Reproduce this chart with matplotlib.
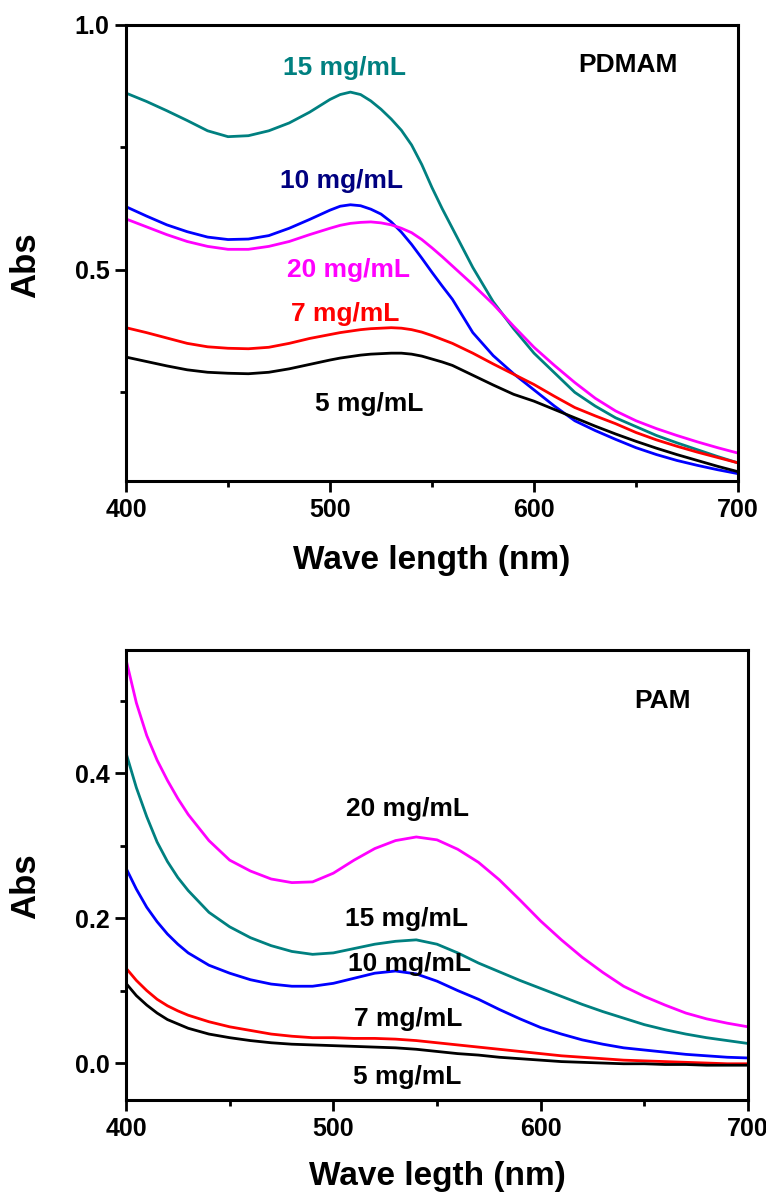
import numpy as np
import matplotlib.pyplot as plt
from matplotlib.ticker import MultipleLocator

plt.rcParams['font.family'] = ['Liberation Sans', 'DejaVu Sans']
plt.rcParams['font.weight'] = 'bold'

# ---- PDMAM panel (wavelength in nm, finer around the peak) ----
wl_top = [400, 410, 420, 430, 440, 450, 460, 470, 480, 490, 500,
          505, 510, 515, 520, 525, 530, 535, 540, 545, 550, 555,
          560, 570, 580, 590, 600, 610, 620, 630, 640, 650, 660, 670, 680, 690, 700]
pdmam_15 = [0.861, 0.844, 0.825, 0.805, 0.784, 0.772, 0.774, 0.784, 0.800, 0.822, 0.848,
            0.858, 0.863, 0.858, 0.845, 0.828, 0.808, 0.785, 0.755, 0.715, 0.668, 0.625,
            0.585, 0.505, 0.435, 0.380, 0.330, 0.290, 0.250, 0.222, 0.198, 0.180, 0.162,
            0.147, 0.133, 0.119, 0.106]
pdmam_10 = [0.629, 0.610, 0.592, 0.578, 0.567, 0.562, 0.563, 0.570, 0.585, 0.603, 0.622,
            0.630, 0.633, 0.631, 0.624, 0.614, 0.598, 0.577, 0.552, 0.524, 0.495, 0.467,
            0.440, 0.372, 0.325, 0.288, 0.255, 0.222, 0.192, 0.172, 0.154, 0.137, 0.123,
            0.111, 0.101, 0.092, 0.084]
pdmam_20 = [0.604, 0.588, 0.572, 0.558, 0.548, 0.542, 0.542, 0.548, 0.558, 0.572, 0.585,
            0.591, 0.595, 0.597, 0.598, 0.596, 0.592, 0.585, 0.576, 0.562, 0.545, 0.527,
            0.508, 0.470, 0.430, 0.385, 0.342, 0.305, 0.270, 0.238, 0.212, 0.192, 0.176,
            0.162, 0.149, 0.137, 0.126]
pdmam_7 = [0.382, 0.372, 0.361, 0.350, 0.343, 0.340, 0.339, 0.342, 0.350, 0.360, 0.368,
           0.372, 0.375, 0.378, 0.380, 0.381, 0.382, 0.381, 0.378, 0.373, 0.366, 0.358,
           0.350, 0.330, 0.308, 0.287, 0.266, 0.242, 0.219, 0.202, 0.186, 0.168, 0.153,
           0.140, 0.128, 0.117, 0.106]
pdmam_5 = [0.322, 0.313, 0.304, 0.296, 0.291, 0.289, 0.288, 0.291, 0.298, 0.307, 0.316,
           0.320, 0.323, 0.326, 0.328, 0.329, 0.330, 0.330, 0.328, 0.324, 0.318, 0.312,
           0.305, 0.285, 0.265, 0.246, 0.232, 0.215, 0.198, 0.181, 0.165, 0.150, 0.136,
           0.123, 0.111, 0.099, 0.088]

# ---- PAM panel (finer at the steep start) ----
wl_bot = [400, 405, 410, 415, 420, 425, 430, 440, 450, 460, 470, 480, 490, 500,
          510, 520, 530, 540, 550, 560, 570, 580, 590, 600, 610, 620, 630, 640,
          650, 660, 670, 680, 690, 700]
pam_20 = [0.557, 0.497, 0.452, 0.418, 0.390, 0.365, 0.343, 0.307, 0.280, 0.265, 0.254,
          0.249, 0.250, 0.262, 0.280, 0.296, 0.307, 0.312, 0.308, 0.295, 0.277, 0.253,
          0.225, 0.196, 0.170, 0.146, 0.125, 0.106, 0.092, 0.080, 0.069, 0.061, 0.055, 0.050]
pam_15 = [0.428, 0.380, 0.340, 0.305, 0.278, 0.256, 0.238, 0.208, 0.188, 0.173, 0.162,
          0.154, 0.150, 0.152, 0.158, 0.164, 0.168, 0.170, 0.164, 0.152, 0.138, 0.126,
          0.114, 0.103, 0.092, 0.081, 0.071, 0.062, 0.053, 0.046, 0.040, 0.035, 0.031, 0.027]
pam_10 = [0.269, 0.240, 0.215, 0.195, 0.178, 0.164, 0.152, 0.135, 0.124, 0.115, 0.109,
          0.106, 0.106, 0.110, 0.117, 0.124, 0.127, 0.123, 0.113, 0.100, 0.088, 0.074,
          0.061, 0.049, 0.040, 0.032, 0.026, 0.021, 0.018, 0.015, 0.012, 0.010, 0.008, 0.007]
pam_7 = [0.131, 0.114, 0.100, 0.088, 0.079, 0.072, 0.066, 0.057, 0.050, 0.045, 0.040,
         0.037, 0.035, 0.035, 0.034, 0.034, 0.033, 0.031, 0.028, 0.025, 0.022, 0.019,
         0.016, 0.013, 0.010, 0.008, 0.006, 0.004, 0.003, 0.002, 0.001, 0.000, -0.001, -0.001]
pam_5 = [0.110, 0.093, 0.080, 0.069, 0.060, 0.054, 0.048, 0.040, 0.035, 0.031, 0.028,
         0.026, 0.025, 0.024, 0.023, 0.022, 0.021, 0.019, 0.016, 0.013, 0.011, 0.008,
         0.006, 0.004, 0.002, 0.001, 0.000, -0.001, -0.001, -0.002, -0.002, -0.003, -0.003, -0.003]

teal = '#008080'
navy = '#000080'

fig = plt.figure(figsize=(7.66, 11.98), dpi=100)
W, H = 766, 1198


def px_axes(l, t, r, b):
    return fig.add_axes([l / W, 1 - b / H, (r - l) / W, (b - t) / H])


def style(ax):
    for s in ax.spines.values():
        s.set_linewidth(2.2)
    ax.tick_params(which='major', direction='out', length=8, width=2, labelsize=18, pad=4)
    ax.tick_params(which='minor', direction='out', length=4.5, width=2)
    ax.tick_params(top=False, right=False, which='both')
    for lab in ax.get_xticklabels() + ax.get_yticklabels():
        lab.set_fontweight('bold')


lw = dict(lw=2, solid_joinstyle='round')

# top panel
ax1 = px_axes(126, 25, 738, 481)
ax1.plot(wl_top, pdmam_15, color=teal, **lw)
ax1.plot(wl_top, pdmam_10, color='#0000ff', **lw)
ax1.plot(wl_top, pdmam_20, color='#ff00ff', **lw)
ax1.plot(wl_top, pdmam_7, color='#ff0000', **lw)
ax1.plot(wl_top, pdmam_5, color='black', **lw)
ax1.set_xlim(400, 700)
ax1.set_ylim(0.069, 1.0)
ax1.set_xticks([400, 500, 600, 700])
ax1.set_yticks([0.5, 1.0])
ax1.set_yticklabels(['0.5', '1.0'])
ax1.xaxis.set_minor_locator(MultipleLocator(50))
ax1.yaxis.set_minor_locator(MultipleLocator(0.25))
style(ax1)

kw = dict(ha='center', va='center', fontsize=19, fontweight='bold')
ax1.text(507, 0.912, '15 mg/mL', color=teal, **kw)
ax1.text(505.5, 0.682, '10 mg/mL', color=navy, **kw)
ax1.text(509, 0.500, '20 mg/mL', color='#ff00ff', **kw)
ax1.text(507.5, 0.410, '7 mg/mL', color='#ff0000', **kw)
ax1.text(519, 0.227, '5 mg/mL', color='black', **kw)
ax1.text(646, 0.918, 'PDMAM', color='black', **kw)

# bottom panel
ax2 = px_axes(126, 650, 748, 1100)
ax2.plot(wl_bot, pam_20, color='#ff00ff', **lw)
ax2.plot(wl_bot, pam_15, color=teal, **lw)
ax2.plot(wl_bot, pam_10, color='#0000ff', **lw)
ax2.plot(wl_bot, pam_7, color='#ff0000', **lw)
ax2.plot(wl_bot, pam_5, color='black', **lw)
ax2.set_xlim(400, 700)
ax2.set_ylim(-0.051, 0.57)
ax2.set_xticks([400, 500, 600, 700])
ax2.set_yticks([0.0, 0.2, 0.4])
ax2.set_yticklabels(['0.0', '0.2', '0.4'])
ax2.xaxis.set_minor_locator(MultipleLocator(50))
ax2.yaxis.set_minor_locator(MultipleLocator(0.1))
style(ax2)

ax2.text(536, 0.351, '20 mg/mL', color='black', **kw)
ax2.text(535.5, 0.199, '15 mg/mL', color='black', **kw)
ax2.text(536.5, 0.136, '10 mg/mL', color='black', **kw)
ax2.text(536, 0.061, '7 mg/mL', color='black', **kw)
ax2.text(535.7, -0.019, '5 mg/mL', color='black', **kw)
ax2.text(659, 0.50, 'PAM', color='black', **kw)

# axis titles
fig.text(26 / W, 1 - 265 / H, 'Abs', rotation=90, ha='center', va='center',
         fontsize=25, fontweight='bold')
fig.text(432 / W, 1 - 560 / H, 'Wave length (nm)', ha='center', va='center',
         fontsize=24, fontweight='bold')
fig.text(26 / W, 1 - 886 / H, 'Abs', rotation=90, ha='center', va='center',
         fontsize=25, fontweight='bold')
fig.text(437 / W, 1 - 1177 / H, 'Wave legth (nm)', ha='center', va='center',
         fontsize=24, fontweight='bold')

fig.savefig('out.png', dpi=100)
